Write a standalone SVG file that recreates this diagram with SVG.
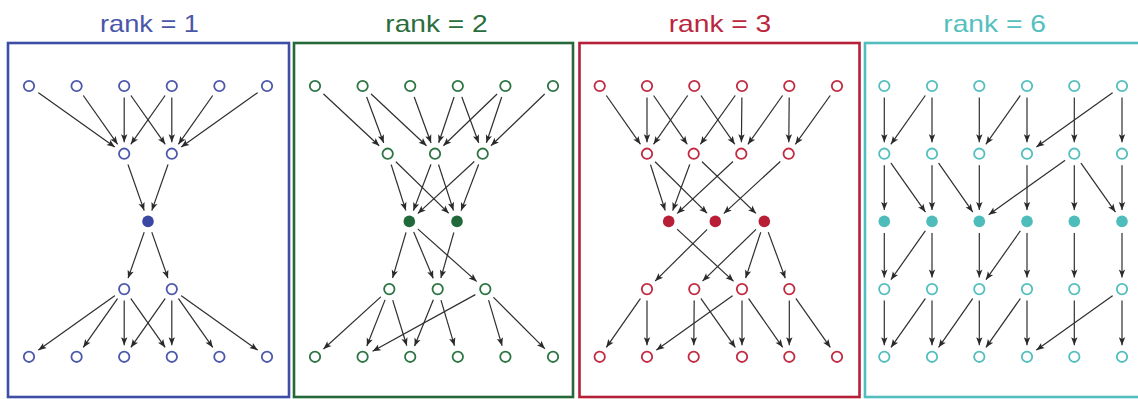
<svg xmlns="http://www.w3.org/2000/svg" width="1138" height="399" viewBox="0 0 1138 399">
<style>
.t{font-family:"Liberation Sans",Arial,sans-serif;font-size:24px}
.fr{fill:none;stroke-width:2.6}
.e{stroke:#2e2e2e;stroke-width:1.2;fill:none;marker-end:url(#ah)}
.h{fill:#fff}
.o{fill:#fff;stroke-width:1.8}
.b .o{stroke:#4b58ab}.b .f{fill:#3b48a3}
.g .o{stroke:#2c7443}.g .f{fill:#21683a}
.r .o{stroke:#c12a41}.r .f{fill:#b81f37}
.c .o{stroke:#52bfbe}.c .f{fill:#4dbcbb}
</style>
<defs>
<marker id="ah" markerUnits="userSpaceOnUse" viewBox="-12 -5 24 10" markerWidth="24" markerHeight="10" refX="11.5" refY="0" orient="auto" overflow="visible">
<path d="M0,0 L-8,-3.2 L-6.2,0 L-8,3.2 Z" fill="#2a2a2a"/>
</marker>
</defs>
<g id="titles">
<text class="t" x="100" y="32" textLength="99" lengthAdjust="spacingAndGlyphs" fill="#4a56a8">rank = 1</text>
<text class="t" x="385.3" y="32" textLength="102.4" lengthAdjust="spacingAndGlyphs" fill="#2a6d3d">rank = 2</text>
<text class="t" x="668.7" y="32" textLength="102.6" lengthAdjust="spacingAndGlyphs" fill="#b9263d">rank = 3</text>
<text class="t" x="943.3" y="32" textLength="102.7" lengthAdjust="spacingAndGlyphs" fill="#55bfbf">rank = 6</text>
</g>
<g id="frames">
<rect class="fr" x="8" y="43" width="281" height="354" stroke="#3e4ea6"/>
<rect class="fr" x="294" y="43" width="279" height="354" stroke="#25693a"/>
<rect class="fr" x="579.5" y="43" width="280" height="354" stroke="#b51f37"/>
<rect class="fr" x="865" y="43" width="290" height="354" stroke="#52bebd"/>
</g>
<g id="connectors">
<!-- panel 1 -->
<line class="e" x1="29" y1="86" x2="124.2" y2="153.7"/>
<line class="e" x1="76.6" y1="86" x2="124.2" y2="153.7"/>
<line class="e" x1="124.2" y1="86" x2="124.2" y2="153.7"/>
<line class="e" x1="124.2" y1="86" x2="171.8" y2="153.7"/>
<line class="e" x1="171.8" y1="86" x2="124.2" y2="153.7"/>
<line class="e" x1="171.8" y1="86" x2="171.8" y2="153.7"/>
<line class="e" x1="219.4" y1="86" x2="171.8" y2="153.7"/>
<line class="e" x1="267" y1="86" x2="171.8" y2="153.7"/>
<line class="e" x1="124.2" y1="153.7" x2="148" y2="221.4"/>
<line class="e" x1="171.8" y1="153.7" x2="148" y2="221.4"/>
<line class="e" x1="148" y1="221.4" x2="124.2" y2="289.1"/>
<line class="e" x1="148" y1="221.4" x2="171.8" y2="289.1"/>
<line class="e" x1="124.2" y1="289.1" x2="29" y2="356.8"/>
<line class="e" x1="124.2" y1="289.1" x2="76.6" y2="356.8"/>
<line class="e" x1="124.2" y1="289.1" x2="124.2" y2="356.8"/>
<line class="e" x1="124.2" y1="289.1" x2="171.8" y2="356.8"/>
<line class="e" x1="171.8" y1="289.1" x2="124.2" y2="356.8"/>
<line class="e" x1="171.8" y1="289.1" x2="171.8" y2="356.8"/>
<line class="e" x1="171.8" y1="289.1" x2="219.4" y2="356.8"/>
<line class="e" x1="171.8" y1="289.1" x2="267" y2="356.8"/>
<!-- panel 2 -->
<line class="e" x1="315" y1="86" x2="387.7" y2="153.7"/>
<line class="e" x1="362.6" y1="86" x2="387.7" y2="153.7"/>
<line class="e" x1="362.6" y1="86" x2="435" y2="153.7"/>
<line class="e" x1="410.2" y1="86" x2="435" y2="153.7"/>
<line class="e" x1="457.8" y1="86" x2="435" y2="153.7"/>
<line class="e" x1="457.8" y1="86" x2="482.7" y2="153.7"/>
<line class="e" x1="505.4" y1="86" x2="435" y2="153.7"/>
<line class="e" x1="505.4" y1="86" x2="482.7" y2="153.7"/>
<line class="e" x1="553" y1="86" x2="482.7" y2="153.7"/>
<line class="e" x1="387.7" y1="153.7" x2="409.3" y2="221.4"/>
<line class="e" x1="387.7" y1="153.7" x2="457" y2="221.4"/>
<line class="e" x1="435" y1="153.7" x2="409.3" y2="221.4"/>
<line class="e" x1="435" y1="153.7" x2="457" y2="221.4"/>
<line class="e" x1="482.7" y1="153.7" x2="409.3" y2="221.4"/>
<line class="e" x1="482.7" y1="153.7" x2="457" y2="221.4"/>
<line class="e" x1="409.3" y1="221.4" x2="389.3" y2="289.1"/>
<line class="e" x1="409.3" y1="221.4" x2="437.7" y2="289.1"/>
<line class="e" x1="409.3" y1="221.4" x2="485.3" y2="289.1"/>
<line class="e" x1="457" y1="221.4" x2="437.7" y2="289.1"/>
<line class="e" x1="389.3" y1="289.1" x2="315" y2="356.8"/>
<line class="e" x1="389.3" y1="289.1" x2="362.6" y2="356.8"/>
<line class="e" x1="389.3" y1="289.1" x2="410.2" y2="356.8"/>
<line class="e" x1="437.7" y1="289.1" x2="410.2" y2="356.8"/>
<line class="e" x1="437.7" y1="289.1" x2="457.8" y2="356.8"/>
<line class="e" x1="485.3" y1="289.1" x2="362.6" y2="356.8"/>
<line class="e" x1="485.3" y1="289.1" x2="505.4" y2="356.8"/>
<line class="e" x1="485.3" y1="289.1" x2="553" y2="356.8"/>
<!-- panel 3 -->
<line class="e" x1="599.7" y1="86" x2="647" y2="153.7"/>
<line class="e" x1="647" y1="86" x2="647" y2="153.7"/>
<line class="e" x1="647" y1="86" x2="693.7" y2="153.7"/>
<line class="e" x1="694.3" y1="86" x2="647" y2="153.7"/>
<line class="e" x1="694.3" y1="86" x2="741.3" y2="153.7"/>
<line class="e" x1="742" y1="86" x2="693.7" y2="153.7"/>
<line class="e" x1="742" y1="86" x2="741.3" y2="153.7"/>
<line class="e" x1="789.3" y1="86" x2="741.3" y2="153.7"/>
<line class="e" x1="789.3" y1="86" x2="788.7" y2="153.7"/>
<line class="e" x1="837" y1="86" x2="788.7" y2="153.7"/>
<line class="e" x1="647" y1="153.7" x2="668.7" y2="221.4"/>
<line class="e" x1="647" y1="153.7" x2="715.3" y2="221.4"/>
<line class="e" x1="693.7" y1="153.7" x2="668.7" y2="221.4"/>
<line class="e" x1="693.7" y1="153.7" x2="764.3" y2="221.4"/>
<line class="e" x1="741.3" y1="153.7" x2="668.7" y2="221.4"/>
<line class="e" x1="788.7" y1="153.7" x2="715.3" y2="221.4"/>
<line class="e" x1="668.7" y1="221.4" x2="742" y2="289.1"/>
<line class="e" x1="715.3" y1="221.4" x2="647" y2="289.1"/>
<line class="e" x1="764.3" y1="221.4" x2="694.3" y2="289.1"/>
<line class="e" x1="764.3" y1="221.4" x2="742" y2="289.1"/>
<line class="e" x1="764.3" y1="221.4" x2="789.3" y2="289.1"/>
<line class="e" x1="647" y1="289.1" x2="599.7" y2="356.8"/>
<line class="e" x1="647" y1="289.1" x2="647" y2="356.8"/>
<line class="e" x1="694.3" y1="289.1" x2="693.7" y2="356.8"/>
<line class="e" x1="694.3" y1="289.1" x2="742" y2="356.8"/>
<line class="e" x1="742" y1="289.1" x2="647" y2="356.8"/>
<line class="e" x1="742" y1="289.1" x2="742" y2="356.8"/>
<line class="e" x1="742" y1="289.1" x2="789.3" y2="356.8"/>
<line class="e" x1="789.3" y1="289.1" x2="789.3" y2="356.8"/>
<line class="e" x1="789.3" y1="289.1" x2="837" y2="356.8"/>
<!-- panel 4 r1->r2 -->
<line class="e" x1="884.3" y1="86" x2="884.3" y2="153.7"/>
<line class="e" x1="932" y1="86" x2="884.3" y2="153.7"/>
<line class="e" x1="932" y1="86" x2="932" y2="153.7"/>
<line class="e" x1="979.3" y1="86" x2="979.3" y2="153.7"/>
<line class="e" x1="1027" y1="86" x2="979.3" y2="153.7"/>
<line class="e" x1="1027" y1="86" x2="1027" y2="153.7"/>
<line class="e" x1="1074.3" y1="86" x2="1074.3" y2="153.7"/>
<line class="e" x1="1122" y1="86" x2="1027" y2="153.7"/>
<line class="e" x1="1122" y1="86" x2="1122" y2="153.7"/>
<!-- r2->r3 -->
<line class="e" x1="884.3" y1="153.7" x2="884.3" y2="221.4"/>
<line class="e" x1="884.3" y1="153.7" x2="932" y2="221.4"/>
<line class="e" x1="932" y1="153.7" x2="932" y2="221.4"/>
<line class="e" x1="932" y1="153.7" x2="979.3" y2="221.4"/>
<line class="e" x1="979.3" y1="153.7" x2="979.3" y2="221.4"/>
<line class="e" x1="1027" y1="153.7" x2="1027" y2="221.4"/>
<line class="e" x1="1074.3" y1="153.7" x2="979.3" y2="221.4"/>
<line class="e" x1="1074.3" y1="153.7" x2="1074.3" y2="221.4"/>
<line class="e" x1="1074.3" y1="153.7" x2="1122" y2="221.4"/>
<line class="e" x1="1122" y1="153.7" x2="1122" y2="221.4"/>
<!-- r3->r4 -->
<line class="e" x1="884.3" y1="221.4" x2="884.3" y2="289.1"/>
<line class="e" x1="932" y1="221.4" x2="884.3" y2="289.1"/>
<line class="e" x1="932" y1="221.4" x2="932" y2="289.1"/>
<line class="e" x1="979.3" y1="221.4" x2="979.3" y2="289.1"/>
<line class="e" x1="1027" y1="221.4" x2="979.3" y2="289.1"/>
<line class="e" x1="1027" y1="221.4" x2="1027" y2="289.1"/>
<line class="e" x1="1074.3" y1="221.4" x2="1074.3" y2="289.1"/>
<line class="e" x1="1122" y1="221.4" x2="1122" y2="289.1"/>
<!-- r4->r5 -->
<line class="e" x1="884.3" y1="289.1" x2="884.3" y2="356.8"/>
<line class="e" x1="932" y1="289.1" x2="884.3" y2="356.8"/>
<line class="e" x1="932" y1="289.1" x2="932" y2="356.8"/>
<line class="e" x1="979.3" y1="289.1" x2="932" y2="356.8"/>
<line class="e" x1="979.3" y1="289.1" x2="979.3" y2="356.8"/>
<line class="e" x1="1027" y1="289.1" x2="979.3" y2="356.8"/>
<line class="e" x1="1027" y1="289.1" x2="1027" y2="356.8"/>
<line class="e" x1="1074.3" y1="289.1" x2="1074.3" y2="356.8"/>
<line class="e" x1="1122" y1="289.1" x2="1027" y2="356.8"/>
<line class="e" x1="1122" y1="289.1" x2="1122" y2="356.8"/>
</g>
<!-- panel 1 nodes -->
<g class="b">
<g id="p1-t1"><circle class="h" cx="29" cy="86" r="11.5"/><circle class="o" cx="29" cy="86" r="5.2"/></g>
<g id="p1-t2"><circle class="h" cx="76.6" cy="86" r="11.5"/><circle class="o" cx="76.6" cy="86" r="5.2"/></g>
<g id="p1-t3"><circle class="h" cx="124.2" cy="86" r="11.5"/><circle class="o" cx="124.2" cy="86" r="5.2"/></g>
<g id="p1-t4"><circle class="h" cx="171.8" cy="86" r="11.5"/><circle class="o" cx="171.8" cy="86" r="5.2"/></g>
<g id="p1-t5"><circle class="h" cx="219.4" cy="86" r="11.5"/><circle class="o" cx="219.4" cy="86" r="5.2"/></g>
<g id="p1-t6"><circle class="h" cx="267" cy="86" r="11.5"/><circle class="o" cx="267" cy="86" r="5.2"/></g>
<g id="p1-a1"><circle class="h" cx="124.2" cy="153.7" r="11.5"/><circle class="o" cx="124.2" cy="153.7" r="5.2"/></g>
<g id="p1-a2"><circle class="h" cx="171.8" cy="153.7" r="11.5"/><circle class="o" cx="171.8" cy="153.7" r="5.2"/></g>
<g id="p1-f1"><circle class="h" cx="148" cy="221.4" r="11.5"/><circle class="f" cx="148" cy="221.4" r="5.8"/></g>
<g id="p1-b1"><circle class="h" cx="124.2" cy="289.1" r="11.5"/><circle class="o" cx="124.2" cy="289.1" r="5.2"/></g>
<g id="p1-b2"><circle class="h" cx="171.8" cy="289.1" r="11.5"/><circle class="o" cx="171.8" cy="289.1" r="5.2"/></g>
<g id="p1-l1"><circle class="h" cx="29" cy="356.8" r="11.5"/><circle class="o" cx="29" cy="356.8" r="5.2"/></g>
<g id="p1-l2"><circle class="h" cx="76.6" cy="356.8" r="11.5"/><circle class="o" cx="76.6" cy="356.8" r="5.2"/></g>
<g id="p1-l3"><circle class="h" cx="124.2" cy="356.8" r="11.5"/><circle class="o" cx="124.2" cy="356.8" r="5.2"/></g>
<g id="p1-l4"><circle class="h" cx="171.8" cy="356.8" r="11.5"/><circle class="o" cx="171.8" cy="356.8" r="5.2"/></g>
<g id="p1-l5"><circle class="h" cx="219.4" cy="356.8" r="11.5"/><circle class="o" cx="219.4" cy="356.8" r="5.2"/></g>
<g id="p1-l6"><circle class="h" cx="267" cy="356.8" r="11.5"/><circle class="o" cx="267" cy="356.8" r="5.2"/></g>
</g>
<!-- panel 2 nodes -->
<g class="g">
<g id="p2-t1"><circle class="h" cx="315" cy="86" r="11.5"/><circle class="o" cx="315" cy="86" r="5.2"/></g>
<g id="p2-t2"><circle class="h" cx="362.6" cy="86" r="11.5"/><circle class="o" cx="362.6" cy="86" r="5.2"/></g>
<g id="p2-t3"><circle class="h" cx="410.2" cy="86" r="11.5"/><circle class="o" cx="410.2" cy="86" r="5.2"/></g>
<g id="p2-t4"><circle class="h" cx="457.8" cy="86" r="11.5"/><circle class="o" cx="457.8" cy="86" r="5.2"/></g>
<g id="p2-t5"><circle class="h" cx="505.4" cy="86" r="11.5"/><circle class="o" cx="505.4" cy="86" r="5.2"/></g>
<g id="p2-t6"><circle class="h" cx="553" cy="86" r="11.5"/><circle class="o" cx="553" cy="86" r="5.2"/></g>
<g id="p2-a1"><circle class="h" cx="387.7" cy="153.7" r="11.5"/><circle class="o" cx="387.7" cy="153.7" r="5.2"/></g>
<g id="p2-a2"><circle class="h" cx="435" cy="153.7" r="11.5"/><circle class="o" cx="435" cy="153.7" r="5.2"/></g>
<g id="p2-a3"><circle class="h" cx="482.7" cy="153.7" r="11.5"/><circle class="o" cx="482.7" cy="153.7" r="5.2"/></g>
<g id="p2-f1"><circle class="h" cx="409.3" cy="221.4" r="11.5"/><circle class="f" cx="409.3" cy="221.4" r="5.8"/></g>
<g id="p2-f2"><circle class="h" cx="457" cy="221.4" r="11.5"/><circle class="f" cx="457" cy="221.4" r="5.8"/></g>
<g id="p2-b1"><circle class="h" cx="389.3" cy="289.1" r="11.5"/><circle class="o" cx="389.3" cy="289.1" r="5.2"/></g>
<g id="p2-b2"><circle class="h" cx="437.7" cy="289.1" r="11.5"/><circle class="o" cx="437.7" cy="289.1" r="5.2"/></g>
<g id="p2-b3"><circle class="h" cx="485.3" cy="289.1" r="11.5"/><circle class="o" cx="485.3" cy="289.1" r="5.2"/></g>
<g id="p2-l1"><circle class="h" cx="315" cy="356.8" r="11.5"/><circle class="o" cx="315" cy="356.8" r="5.2"/></g>
<g id="p2-l2"><circle class="h" cx="362.6" cy="356.8" r="11.5"/><circle class="o" cx="362.6" cy="356.8" r="5.2"/></g>
<g id="p2-l3"><circle class="h" cx="410.2" cy="356.8" r="11.5"/><circle class="o" cx="410.2" cy="356.8" r="5.2"/></g>
<g id="p2-l4"><circle class="h" cx="457.8" cy="356.8" r="11.5"/><circle class="o" cx="457.8" cy="356.8" r="5.2"/></g>
<g id="p2-l5"><circle class="h" cx="505.4" cy="356.8" r="11.5"/><circle class="o" cx="505.4" cy="356.8" r="5.2"/></g>
<g id="p2-l6"><circle class="h" cx="553" cy="356.8" r="11.5"/><circle class="o" cx="553" cy="356.8" r="5.2"/></g>
</g>
<!-- panel 3 nodes -->
<g class="r">
<g id="p3-t1"><circle class="h" cx="599.7" cy="86" r="11.5"/><circle class="o" cx="599.7" cy="86" r="5.2"/></g>
<g id="p3-t2"><circle class="h" cx="647" cy="86" r="11.5"/><circle class="o" cx="647" cy="86" r="5.2"/></g>
<g id="p3-t3"><circle class="h" cx="694.3" cy="86" r="11.5"/><circle class="o" cx="694.3" cy="86" r="5.2"/></g>
<g id="p3-t4"><circle class="h" cx="742" cy="86" r="11.5"/><circle class="o" cx="742" cy="86" r="5.2"/></g>
<g id="p3-t5"><circle class="h" cx="789.3" cy="86" r="11.5"/><circle class="o" cx="789.3" cy="86" r="5.2"/></g>
<g id="p3-t6"><circle class="h" cx="837" cy="86" r="11.5"/><circle class="o" cx="837" cy="86" r="5.2"/></g>
<g id="p3-a1"><circle class="h" cx="647" cy="153.7" r="11.5"/><circle class="o" cx="647" cy="153.7" r="5.2"/></g>
<g id="p3-a2"><circle class="h" cx="693.7" cy="153.7" r="11.5"/><circle class="o" cx="693.7" cy="153.7" r="5.2"/></g>
<g id="p3-a3"><circle class="h" cx="741.3" cy="153.7" r="11.5"/><circle class="o" cx="741.3" cy="153.7" r="5.2"/></g>
<g id="p3-a4"><circle class="h" cx="788.7" cy="153.7" r="11.5"/><circle class="o" cx="788.7" cy="153.7" r="5.2"/></g>
<g id="p3-f1"><circle class="h" cx="668.7" cy="221.4" r="11.5"/><circle class="f" cx="668.7" cy="221.4" r="5.8"/></g>
<g id="p3-f2"><circle class="h" cx="715.3" cy="221.4" r="11.5"/><circle class="f" cx="715.3" cy="221.4" r="5.8"/></g>
<g id="p3-f3"><circle class="h" cx="764.3" cy="221.4" r="11.5"/><circle class="f" cx="764.3" cy="221.4" r="5.8"/></g>
<g id="p3-b1"><circle class="h" cx="647" cy="289.1" r="11.5"/><circle class="o" cx="647" cy="289.1" r="5.2"/></g>
<g id="p3-b2"><circle class="h" cx="694.3" cy="289.1" r="11.5"/><circle class="o" cx="694.3" cy="289.1" r="5.2"/></g>
<g id="p3-b3"><circle class="h" cx="742" cy="289.1" r="11.5"/><circle class="o" cx="742" cy="289.1" r="5.2"/></g>
<g id="p3-b4"><circle class="h" cx="789.3" cy="289.1" r="11.5"/><circle class="o" cx="789.3" cy="289.1" r="5.2"/></g>
<g id="p3-l1"><circle class="h" cx="599.7" cy="356.8" r="11.5"/><circle class="o" cx="599.7" cy="356.8" r="5.2"/></g>
<g id="p3-l2"><circle class="h" cx="647" cy="356.8" r="11.5"/><circle class="o" cx="647" cy="356.8" r="5.2"/></g>
<g id="p3-l3"><circle class="h" cx="693.7" cy="356.8" r="11.5"/><circle class="o" cx="693.7" cy="356.8" r="5.2"/></g>
<g id="p3-l4"><circle class="h" cx="742" cy="356.8" r="11.5"/><circle class="o" cx="742" cy="356.8" r="5.2"/></g>
<g id="p3-l5"><circle class="h" cx="789.3" cy="356.8" r="11.5"/><circle class="o" cx="789.3" cy="356.8" r="5.2"/></g>
<g id="p3-l6"><circle class="h" cx="837" cy="356.8" r="11.5"/><circle class="o" cx="837" cy="356.8" r="5.2"/></g>
</g>
<!-- panel 4 nodes -->
<g class="c">
<g id="p4-r1c1"><circle class="h" cx="884.3" cy="86" r="11.5"/><circle class="o" cx="884.3" cy="86" r="5.2"/></g>
<g id="p4-r1c2"><circle class="h" cx="932" cy="86" r="11.5"/><circle class="o" cx="932" cy="86" r="5.2"/></g>
<g id="p4-r1c3"><circle class="h" cx="979.3" cy="86" r="11.5"/><circle class="o" cx="979.3" cy="86" r="5.2"/></g>
<g id="p4-r1c4"><circle class="h" cx="1027" cy="86" r="11.5"/><circle class="o" cx="1027" cy="86" r="5.2"/></g>
<g id="p4-r1c5"><circle class="h" cx="1074.3" cy="86" r="11.5"/><circle class="o" cx="1074.3" cy="86" r="5.2"/></g>
<g id="p4-r1c6"><circle class="h" cx="1122" cy="86" r="11.5"/><circle class="o" cx="1122" cy="86" r="5.2"/></g>
<g id="p4-r2c1"><circle class="h" cx="884.3" cy="153.7" r="11.5"/><circle class="o" cx="884.3" cy="153.7" r="5.2"/></g>
<g id="p4-r2c2"><circle class="h" cx="932" cy="153.7" r="11.5"/><circle class="o" cx="932" cy="153.7" r="5.2"/></g>
<g id="p4-r2c3"><circle class="h" cx="979.3" cy="153.7" r="11.5"/><circle class="o" cx="979.3" cy="153.7" r="5.2"/></g>
<g id="p4-r2c4"><circle class="h" cx="1027" cy="153.7" r="11.5"/><circle class="o" cx="1027" cy="153.7" r="5.2"/></g>
<g id="p4-r2c5"><circle class="h" cx="1074.3" cy="153.7" r="11.5"/><circle class="o" cx="1074.3" cy="153.7" r="5.2"/></g>
<g id="p4-r2c6"><circle class="h" cx="1122" cy="153.7" r="11.5"/><circle class="o" cx="1122" cy="153.7" r="5.2"/></g>
<g id="p4-r3c1"><circle class="h" cx="884.3" cy="221.4" r="11.5"/><circle class="f" cx="884.3" cy="221.4" r="5.8"/></g>
<g id="p4-r3c2"><circle class="h" cx="932" cy="221.4" r="11.5"/><circle class="f" cx="932" cy="221.4" r="5.8"/></g>
<g id="p4-r3c3"><circle class="h" cx="979.3" cy="221.4" r="11.5"/><circle class="f" cx="979.3" cy="221.4" r="5.8"/></g>
<g id="p4-r3c4"><circle class="h" cx="1027" cy="221.4" r="11.5"/><circle class="f" cx="1027" cy="221.4" r="5.8"/></g>
<g id="p4-r3c5"><circle class="h" cx="1074.3" cy="221.4" r="11.5"/><circle class="f" cx="1074.3" cy="221.4" r="5.8"/></g>
<g id="p4-r3c6"><circle class="h" cx="1122" cy="221.4" r="11.5"/><circle class="f" cx="1122" cy="221.4" r="5.8"/></g>
<g id="p4-r4c1"><circle class="h" cx="884.3" cy="289.1" r="11.5"/><circle class="o" cx="884.3" cy="289.1" r="5.2"/></g>
<g id="p4-r4c2"><circle class="h" cx="932" cy="289.1" r="11.5"/><circle class="o" cx="932" cy="289.1" r="5.2"/></g>
<g id="p4-r4c3"><circle class="h" cx="979.3" cy="289.1" r="11.5"/><circle class="o" cx="979.3" cy="289.1" r="5.2"/></g>
<g id="p4-r4c4"><circle class="h" cx="1027" cy="289.1" r="11.5"/><circle class="o" cx="1027" cy="289.1" r="5.2"/></g>
<g id="p4-r4c5"><circle class="h" cx="1074.3" cy="289.1" r="11.5"/><circle class="o" cx="1074.3" cy="289.1" r="5.2"/></g>
<g id="p4-r4c6"><circle class="h" cx="1122" cy="289.1" r="11.5"/><circle class="o" cx="1122" cy="289.1" r="5.2"/></g>
<g id="p4-r5c1"><circle class="h" cx="884.3" cy="356.8" r="11.5"/><circle class="o" cx="884.3" cy="356.8" r="5.2"/></g>
<g id="p4-r5c2"><circle class="h" cx="932" cy="356.8" r="11.5"/><circle class="o" cx="932" cy="356.8" r="5.2"/></g>
<g id="p4-r5c3"><circle class="h" cx="979.3" cy="356.8" r="11.5"/><circle class="o" cx="979.3" cy="356.8" r="5.2"/></g>
<g id="p4-r5c4"><circle class="h" cx="1027" cy="356.8" r="11.5"/><circle class="o" cx="1027" cy="356.8" r="5.2"/></g>
<g id="p4-r5c5"><circle class="h" cx="1074.3" cy="356.8" r="11.5"/><circle class="o" cx="1074.3" cy="356.8" r="5.2"/></g>
<g id="p4-r5c6"><circle class="h" cx="1122" cy="356.8" r="11.5"/><circle class="o" cx="1122" cy="356.8" r="5.2"/></g>
</g>
</svg>
